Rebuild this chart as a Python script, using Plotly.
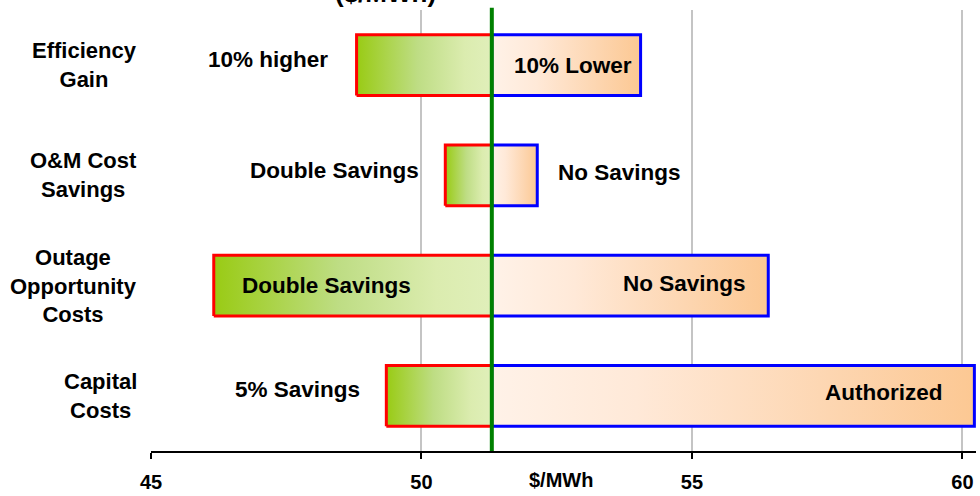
import plotly.graph_objects as go

# Sensitivity of levelized cost ($/MWh) around the base case
categories = ["Efficiency<br>Gain", "O&M Cost<br>Savings", "Outage<br>Opportunity<br>Costs", "Capital<br>Costs"]
base_cost = 51.3
low_values = [48.80, 50.44, 46.16, 49.35]
high_values = [54.05, 52.14, 56.41, 60.22]
low_labels = ["10% higher", "Double Savings", "Double Savings", "5% Savings"]
high_labels = ["10% Lower", "No Savings", "No Savings", "Authorized"]
x_ticks = [45, 50, 55, 60]
axis_title = "$/MWh"
chart_title = "($/MWh)"

FONT = "Liberation Sans, Arial, sans-serif"
BAR_HALF = 0.275
LABEL_SIZE = 22.5
CAT_SIZE = 22

# label placement: (anchor side, xshift px, yshift px)
low_place = [("right", -27, 6), ("right", -24, 5), ("left", 26, 0), ("right", -24, 6)]
high_place = [("right", -7, 0), ("left", 19, 3), ("right", -20, 2), ("right", -29, 3)]

green_scale = [[0, "#99CB14"], [0.45, "#BEDD84"], [0.8, "#DBECAF"], [1, "#E0EFBA"]]
peach_scale = [[0, "#FFF2E8"], [0.3, "#FFE9D8"], [0.7, "#FDD6B1"], [1, "#FCC893"]]

n = len(categories)
fig = go.Figure()

for i in range(n):
    yc = n - 1 - i
    y0, y1 = yc - BAR_HALF, yc + BAR_HALF
    lo, hi = low_values[i], high_values[i]
    fig.add_trace(go.Scatter(
        x=[lo, base_cost, base_cost, lo, lo], y=[y0, y0, y1, y1, y0],
        mode="lines", fill="toself",
        fillgradient=dict(type="horizontal", colorscale=green_scale),
        line=dict(color="#FF0000", width=3), showlegend=False, hoverinfo="skip"))
    fig.add_trace(go.Scatter(
        x=[base_cost, hi, hi, base_cost, base_cost], y=[y0, y0, y1, y1, y0],
        mode="lines", fill="toself",
        fillgradient=dict(type="horizontal", colorscale=peach_scale),
        line=dict(color="#0000FF", width=3), showlegend=False, hoverinfo="skip"))

annotations = []
for i in range(n):
    yc = n - 1 - i
    side, dx, dy = low_place[i]
    annotations.append(dict(x=low_values[i], y=yc, xref="x", yref="y", text=f"<b>{low_labels[i]}</b>",
                            showarrow=False, xanchor=side, xshift=dx, yshift=dy,
                            font=dict(family=FONT, size=LABEL_SIZE, color="black")))
    side, dx, dy = high_place[i]
    annotations.append(dict(x=high_values[i], y=yc, xref="x", yref="y", text=f"<b>{high_labels[i]}</b>",
                            showarrow=False, xanchor=side, xshift=dx, yshift=dy,
                            font=dict(family=FONT, size=LABEL_SIZE, color="black")))
    annotations.append(dict(x=0, y=yc, xref="paper", yref="y", text=f"<b>{categories[i]}</b>",
                            showarrow=False, xanchor="right", xshift=-12, align="center",
                            font=dict(family=FONT, size=CAT_SIZE, color="black")))

annotations.append(dict(x=0.497, y=0, xref="paper", yref="paper", text=f"<b>{axis_title}</b>",
                        showarrow=False, xanchor="center", yanchor="top", yshift=-16,
                        font=dict(family=FONT, size=20, color="black")))
annotations.append(dict(x=0.284, y=1, xref="paper", yref="paper", text=f"<b>{chart_title}</b>",
                        showarrow=False, xanchor="center", yanchor="bottom", yshift=0,
                        font=dict(family=FONT, size=26, color="black")))

fig.add_shape(type="line", x0=base_cost, x1=base_cost, xref="x", yref="paper", y0=0, y1=1.005,
              line=dict(color="#008000", width=4), layer="above")

fig.update_layout(
    width=980, height=496,
    margin=dict(l=151, r=4, t=10, b=45),
    paper_bgcolor="white", plot_bgcolor="white",
    annotations=annotations,
    xaxis=dict(range=[45, 60.25], tickvals=x_ticks, ticktext=[f"<b>{t}</b>" for t in x_ticks],
               showgrid=True, gridcolor="#C4C4C4", gridwidth=1.5,
               showline=True, linecolor="black", linewidth=1.5,
               ticks="outside", ticklen=6, tickcolor="black", tickwidth=1.5,
               ticklabelstandoff=6,
               tickfont=dict(family=FONT, size=20, color="black"), zeroline=False, fixedrange=True),
    yaxis=dict(range=[-0.5, n - 0.5], showticklabels=False, showgrid=False, zeroline=False,
               showline=False, fixedrange=True),
)

fig.write_html("out.html", config={"displayModeBar": False})
